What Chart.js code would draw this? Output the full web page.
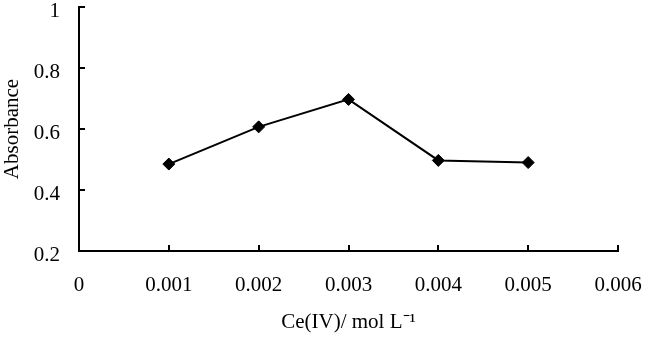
<!DOCTYPE html>
<html>
<head>
<meta charset="utf-8">
<script src="https://cdn.jsdelivr.net/npm/chart.js@4.4.1/dist/chart.umd.min.js"></script>
<style>
    html, body { margin: 0; padding: 0; background: #fff; }
    #wrap { position: relative; width: 646px; height: 337px; }
</style>
</head>
<body>
<div id="wrap"><canvas id="absChart" width="646" height="337"></canvas></div>
<script>
// data
const concentrations = [0.001, 0.002, 0.003, 0.004, 0.005];
const absorbance = [0.485, 0.607, 0.697, 0.497, 0.490];

const xTicks = [0, 0.001, 0.002, 0.003, 0.004, 0.005, 0.006];
const xTickLabels = ['0', '0.001', '0.002', '0.003', '0.004', '0.005', '0.006'];
const yTicks = [0.2, 0.4, 0.6, 0.8, 1];
const yTickLabels = ['0.2', '0.4', '0.6', '0.8', '1'];

const serif = "'Liberation Serif', 'Times New Roman', serif";

// short tick marks pointing into the plot
const innerTicks = {
    id: 'innerTicks',
    afterDatasetsDraw(chart) {
        const ctx = chart.ctx;
        const xs = chart.scales.x;
        const ys = chart.scales.y;
        ctx.save();
        ctx.strokeStyle = '#000';
        ctx.lineWidth = 2;
        ctx.beginPath();
        xs.ticks.forEach((t, i) => {
            const px = Math.round(xs.getPixelForTick(i));
            ctx.moveTo(px, ys.bottom);
            ctx.lineTo(px, ys.bottom - 6);
        });
        ys.ticks.forEach((t, i) => {
            const py = Math.round(ys.getPixelForTick(i));
            ctx.moveTo(xs.left, py);
            ctx.lineTo(xs.left + 6, py);
        });
        ctx.stroke();
        ctx.restore();
    }
};

const points = concentrations.map((c, i) => ({ x: c, y: absorbance[i] }));

new Chart(document.getElementById('absChart'), {
    type: 'scatter',
    data: {
        datasets: [{
            data: points,
            showLine: true,
            borderColor: '#000',
            borderWidth: 2,
            pointStyle: 'rectRot',
            pointRadius: 6,
            pointBackgroundColor: '#000',
            pointBorderColor: '#000',
            pointBorderWidth: 1
        }]
    },
    options: {
        responsive: false,
        animation: false,
        layout: { padding: { top: 6, right: 28, left: 0, bottom: 0 } },
        plugins: {
            legend: { display: false },
            tooltip: { enabled: false }
        },
        scales: {
            x: {
                type: 'linear',
                min: 0,
                max: 0.006,
                afterBuildTicks: s => { s.ticks = xTicks.map(v => ({ value: v })); },
                afterFit: s => { s.height = 86; s.paddingLeft = 0; s.paddingRight = 0; },
                grid: { display: true, drawOnChartArea: false, drawTicks: false },
                border: { display: true, color: '#000', width: 2 },
                ticks: {
                    color: '#000',
                    padding: 22,
                    maxRotation: 0,
                    font: { family: serif, size: 21 },
                    callback: (v, i) => xTickLabels[i]
                },
                title: {
                    display: true,
                    text: 'Ce(IV)/ mol L\u207B\u00B9',
                    color: '#000',
                    font: { family: serif, size: 21 },
                    padding: { top: 0, bottom: 2 }
                }
            },
            y: {
                type: 'linear',
                min: 0.2,
                max: 1,
                afterBuildTicks: s => { s.ticks = yTicks.map(v => ({ value: v })); },
                afterFit: s => { s.width = 79; s.paddingTop = 0; s.paddingBottom = 0; },
                grid: { display: true, drawOnChartArea: false, drawTicks: false },
                border: { display: true, color: '#000', width: 2 },
                ticks: {
                    color: '#000',
                    padding: 19,
                    labelOffset: 4,
                    font: { family: serif, size: 21 },
                    callback: (v, i) => yTickLabels[i]
                },
                title: {
                    display: true,
                    text: 'Absorbance',
                    color: '#000',
                    font: { family: serif, size: 21 },
                    padding: { top: 0, bottom: 0 }
                }
            }
        }
    },
    plugins: [innerTicks]
});
</script>
</body>
</html>
